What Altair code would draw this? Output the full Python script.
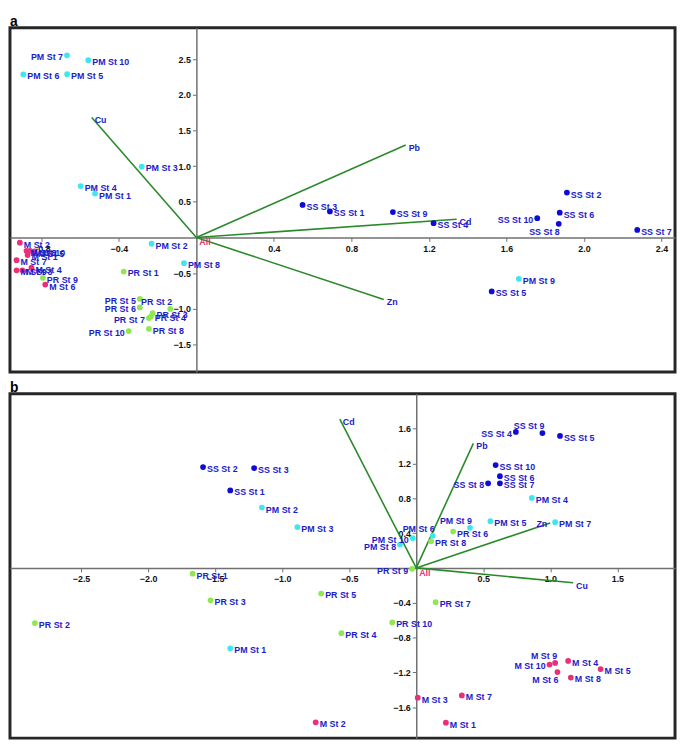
import altair as alt
import pandas as pd

# ---------------- Panel a data ----------------
a_names = [
    "SS St 1", "SS St 2", "SS St 3", "SS St 4", "SS St 5", "SS St 6", "SS St 7", "SS St 8", "SS St 9", "SS St 10",
    "PM St 1", "PM St 2", "PM St 3", "PM St 4", "PM St 5", "PM St 6", "PM St 7", "PM St 8", "PM St 9", "PM St 10",
    "PR St 1", "PR St 2", "PR St 3", "PR St 4", "PR St 5", "PR St 6", "PR St 7", "PR St 8", "PR St 9", "PR St 10",
    "M St 1", "M St 2", "M St 3", "M St 4", "M St 5", "M St 6", "M St 7", "M St 8", "M St 9", "M St 10",
]
a_x = [0.689, 1.912, 0.548, 1.224, 1.524, 1.875, 2.275, 1.870, 1.014, 1.759,
       -0.523, -0.231, -0.282, -0.597, -0.667, -0.893, -0.668, -0.064, 1.664, -0.558,
       -0.375, -0.135, -0.226, -0.235, -0.292, -0.292, -0.245, -0.245, -0.792, -0.349,
       -0.871, -0.911, -0.898, -0.851, -0.838, -0.780, -0.928, -0.877, -0.928, -0.858]
a_y = [0.365, 0.630, 0.456, 0.201, -0.758, 0.347, 0.105, 0.192, 0.356, 0.270,
       0.616, -0.087, 0.996, 0.722, 2.292, 2.288, 2.557, -0.361, -0.580, 2.489,
       -0.479, -1.004, -1.064, -1.110, -0.863, -0.982, -1.132, -1.283, -0.566, -1.315,
       -0.247, -0.073, -0.462, -0.425, -0.199, -0.662, -0.319, -0.188, -0.462, -0.188]
a_left = ["PM St 7", "SS St 10", "PR St 5", "PR St 6", "PR St 7", "PR St 10"]
a_upleft = ["PR St 2"]
a_lowleft = ["SS St 8"]

a_vars = ["Cu", "Pb", "Cd", "Zn"]
a_vx = [-0.540, 1.080, 1.343, 0.967]
a_vy = [1.685, 1.297, 0.256, -0.872]
a_vleft = []

a_xticks = [-0.8, -0.4, 0.4, 0.8, 1.2, 1.6, 2.0, 2.4]
a_yticks = [-1.5, -1.0, -0.5, 0.5, 1.0, 1.5, 2.0, 2.5]
a_xdom = [-0.962, 2.47]
a_ydom = [-1.89, 2.945]

# ---------------- Panel b data ----------------
b_names = a_names
b_x = [-1.387, -1.590, -1.209, 0.743, 1.072, 0.624, 0.624, 0.536, 0.941, 0.592,
       -1.387, -1.151, -0.887, 0.862, 0.553, 0.123, 1.036, -0.121, 0.401, -0.026,
       -1.668, -2.844, -1.534, -0.558, -0.709, 0.275, 0.145, 0.111, -0.031, -0.179,
       0.221, -0.750, 0.011, 1.133, 1.375, 1.053, 0.340, 1.153, 1.036, 0.994]
b_y = [0.890, 1.158, 1.147, 1.561, 1.516, 1.054, 0.972, 0.972, 1.549, 1.181,
       -0.924, 0.693, 0.469, 0.804, 0.536, 0.369, 0.525, 0.268, 0.461, 0.343,
       -0.067, -0.633, -0.372, -0.749, -0.294, 0.417, -0.394, 0.305, -0.011, -0.626,
       -1.777, -1.773, -1.490, -1.069, -1.162, -1.196, -1.464, -1.259, -1.092, -1.110]
b_left = ["SS St 4", "SS St 8", "PM St 10", "PM St 8", "PR St 9", "M St 10"]
b_upleft = ["SS St 9", "PM St 9", "PM St 6", "M St 9"]
b_lowleft = ["M St 6"]

b_vars = ["Cu", "Pb", "Cd", "Zn"]
b_vx = [1.170, 0.426, -0.570, 0.999]
b_vy = [-0.171, 1.430, 1.709, 0.517]
b_vleft = ["Zn"]

b_xticks = [-2.5, -2.0, -1.5, -1.0, -0.5, 0.5, 1.0, 1.5]
b_yticks = [-1.6, -1.2, -0.8, -0.4, 0.4, 0.8, 1.2, 1.6]
b_xdom = [-3.03, 1.93]
b_ydom = [-1.955, 2.0]

groups = ["SS", "PM", "PR", "M"]
group_colors = ["#0c0cd6", "#3ee6ee", "#8ee84e", "#ea2f78"]

W, H = 674, 349
FONT = "Liberation Sans"
LABEL_BLUE = "#1c1cc8"


def side_of(name, left, upleft, lowleft):
    if name in left:
        return "l"
    if name in upleft:
        return "ul"
    if name in lowleft:
        return "ll"
    return "r"


def panel(names, xs, ys, left, upleft, lowleft, vnames, vx, vy, vleft,
          xticks, yticks, xdom, ydom, letter):
    df = pd.DataFrame({
        "name": names,
        "x": xs,
        "y": ys,
        "group": [n.split(" ")[0] for n in names],
        "side": [side_of(n, left, upleft, lowleft) for n in names],
    })
    ld = pd.DataFrame({
        "name": vnames, "x": vx, "y": vy, "x0": [0.0] * len(vnames), "y0": [0.0] * len(vnames),
        "side": ["l" if v in vleft else "r" for v in vnames],
    })
    orig = pd.DataFrame({"name": ["All"], "x": [0.0], "y": [0.0]})

    y_axis_off = -W * (0 - xdom[0]) / (xdom[1] - xdom[0])
    x_axis_off = -H * (0 - ydom[0]) / (ydom[1] - ydom[0])

    axis_common = dict(grid=False, format=".1f", labelFont=FONT, labelFontWeight="bold",
                       labelFontSize=9, labelColor="#111", domainColor="#707070",
                       domainWidth=1.5, tickColor="#707070", tickSize=4,
                       labelFlush=False, labelOverlap=False)
    X = alt.X("x:Q", scale=alt.Scale(domain=xdom, nice=False, zero=False),
              axis=alt.Axis(values=xticks, offset=x_axis_off, labelPadding=3, **axis_common),
              title=None)
    Y = alt.Y("y:Q", scale=alt.Scale(domain=ydom, nice=False, zero=False),
              axis=alt.Axis(values=yticks, offset=y_axis_off, labelPadding=2, **axis_common),
              title=None)

    rules = alt.Chart(ld).mark_rule(color="#2a8a2a", strokeWidth=1.6).encode(
        x=X, y=Y, x2="x0:Q", y2="y0:Q")

    vlab_r = alt.Chart(ld).mark_text(align="left", baseline="middle", dx=3, dy=3,
                                     font=FONT, fontWeight="bold", fontSize=9,
                                     color=LABEL_BLUE).encode(x=X, y=Y, text="name:N"
                                                              ).transform_filter(alt.datum.side == "r")
    vlab_l = alt.Chart(ld).mark_text(align="right", baseline="middle", dx=-3, dy=1,
                                     font=FONT, fontWeight="bold", fontSize=9,
                                     color=LABEL_BLUE).encode(x=X, y=Y, text="name:N"
                                                              ).transform_filter(alt.datum.side == "l")

    pts = alt.Chart(df).mark_circle(size=34, opacity=1).encode(
        x=X, y=Y,
        color=alt.Color("group:N", scale=alt.Scale(domain=groups, range=group_colors), legend=None))

    def lab(side, align, dx, dy):
        return alt.Chart(df).mark_text(align=align, baseline="middle", dx=dx, dy=dy,
                                       font=FONT, fontWeight="bold", fontSize=9,
                                       color=LABEL_BLUE).encode(
            x=X, y=Y, text="name:N").transform_filter(alt.datum.side == side)

    all_lab = alt.Chart(orig).mark_text(align="left", baseline="middle", dx=3, dy=5,
                                        font=FONT, fontWeight="bold", fontSize=9,
                                        color="#e8307a").encode(x=X, y=Y, text="name:N")

    return alt.layer(
        rules, vlab_r, vlab_l, pts,
        lab("r", "left", 4, 2), lab("l", "right", -4, 2),
        lab("ul", "right", 2, -7), lab("ll", "right", 1, 8),
        all_lab,
    ).properties(
        width=W, height=H,
        title=alt.Title(letter, anchor="start", fontSize=14, fontWeight="bold",
                        font=FONT, color="#000", offset=-1),
    )


pa = panel(a_names, a_x, a_y, a_left, a_upleft, a_lowleft, a_vars, a_vx, a_vy, a_vleft,
           a_xticks, a_yticks, a_xdom, a_ydom, "a")
pb = panel(b_names, b_x, b_y, b_left, b_upleft, b_lowleft, b_vars, b_vx, b_vy, b_vleft,
           b_xticks, b_yticks, b_xdom, b_ydom, "b")

chart = alt.vconcat(pa, pb, spacing=5).properties(
    padding={"left": 0, "top": 0, "right": 0, "bottom": 0}).configure_view(
    stroke="#262626", strokeWidth=3)

chart.save("out.html", embed_options={"renderer": "svg", "actions": False})
